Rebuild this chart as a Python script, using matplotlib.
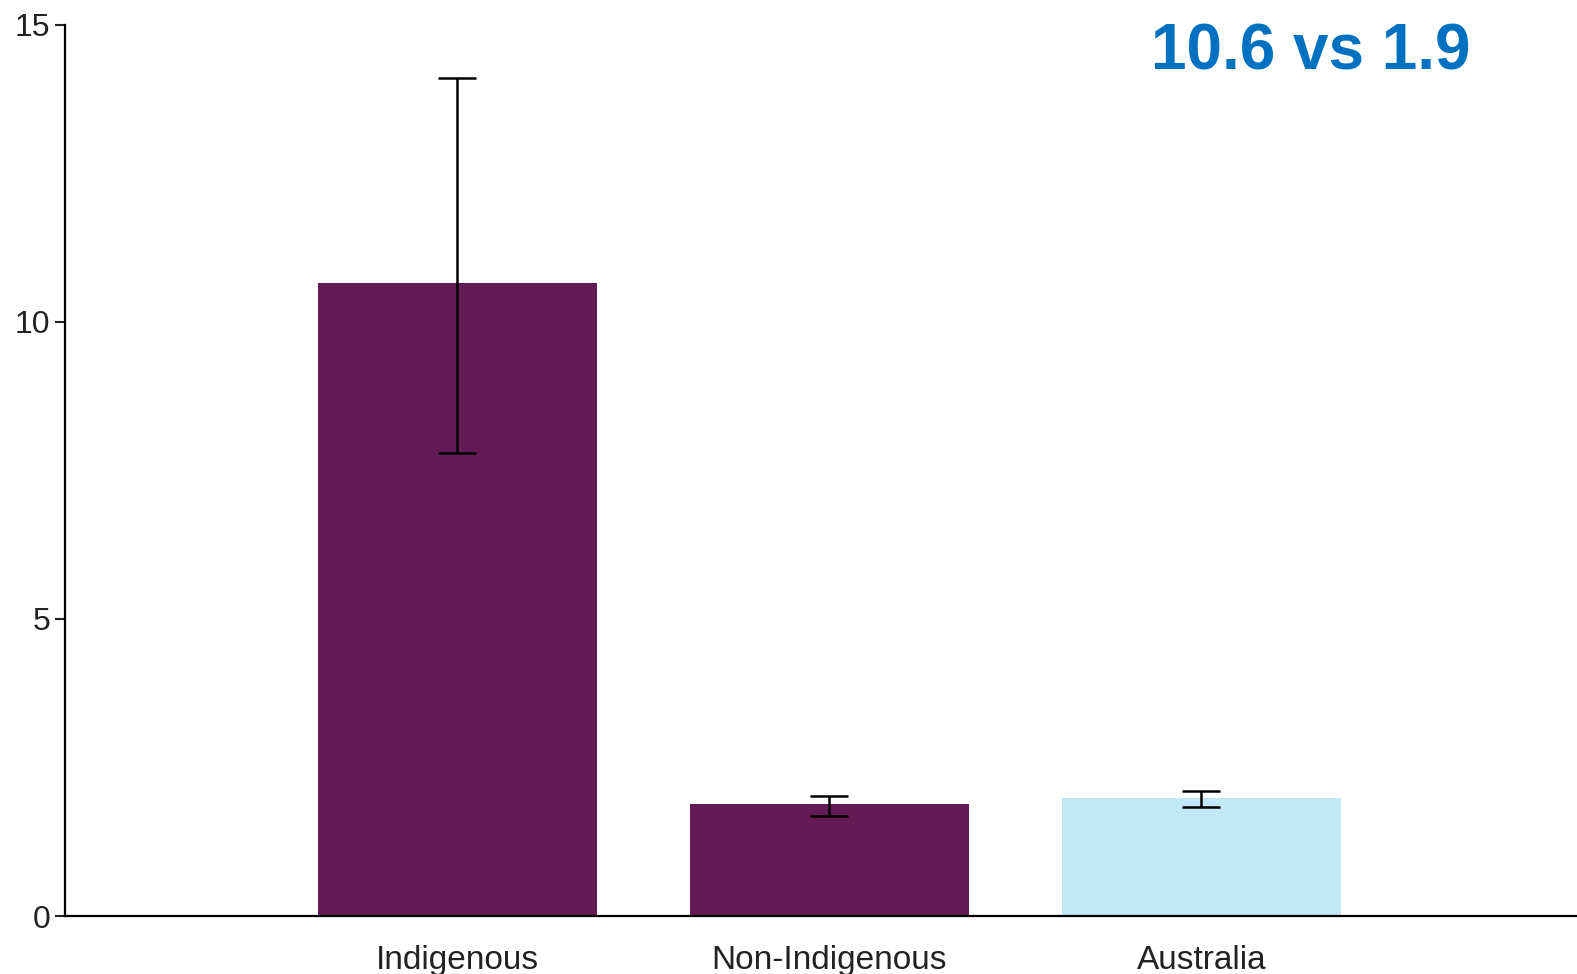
# bar chart: Indigenous vs non-Indigenous vs Australia with 95% CI

import numpy as np
import matplotlib.pyplot as plt

plt.rcParams['font.family'] = ['Liberation Sans', 'DejaVu Sans']

# data
groups = ["Indigenous", "Non-Indigenous", "Australia"]
rates = [10.65, 1.88, 1.98]
ci_low = [7.8, 1.69, 1.83]
ci_high = [14.1, 2.02, 2.10]
bar_colours = ["#641A54", "#641A54", "#C2E8F8"]
yticks = [0, 5, 10, 15]

x = np.arange(len(groups))
err = [np.array(rates) - np.array(ci_low), np.array(ci_high) - np.array(rates)]

fig = plt.figure(figsize=(15.77, 9.74), dpi=100)
ax = fig.add_axes([0.0415, 0.0595, 0.9585, 0.915])

ax.bar(x, rates, width=0.75, color=bar_colours)
ax.errorbar(x, rates, yerr=err, fmt="none", ecolor="black",
            elinewidth=1.8, capsize=14, capthick=1.8)

ax.set_xlim(-1.053, 3.01)
ax.set_ylim(0, 15)
ax.set_yticks(yticks)
ax.set_xticks(x)
ax.set_xticklabels(groups, fontsize=24, color="#222222")
ax.tick_params(axis="y", labelsize=23, length=7, width=1.5, colors="#222222", pad=4)
ax.tick_params(axis="x", length=0, pad=21)

for side in ["top", "right"]:
    ax.spines[side].set_visible(False)
ax.spines["left"].set_linewidth(1.6)
ax.spines["bottom"].set_linewidth(1.6)

# headline ratio
fig.text(1311 / 1577, 1 - 52 / 974, "10.6 vs 1.9", ha="center", va="center",
         fontsize=46, fontweight="bold", color="#0070C0")

plt.savefig("out.png", dpi=100)
